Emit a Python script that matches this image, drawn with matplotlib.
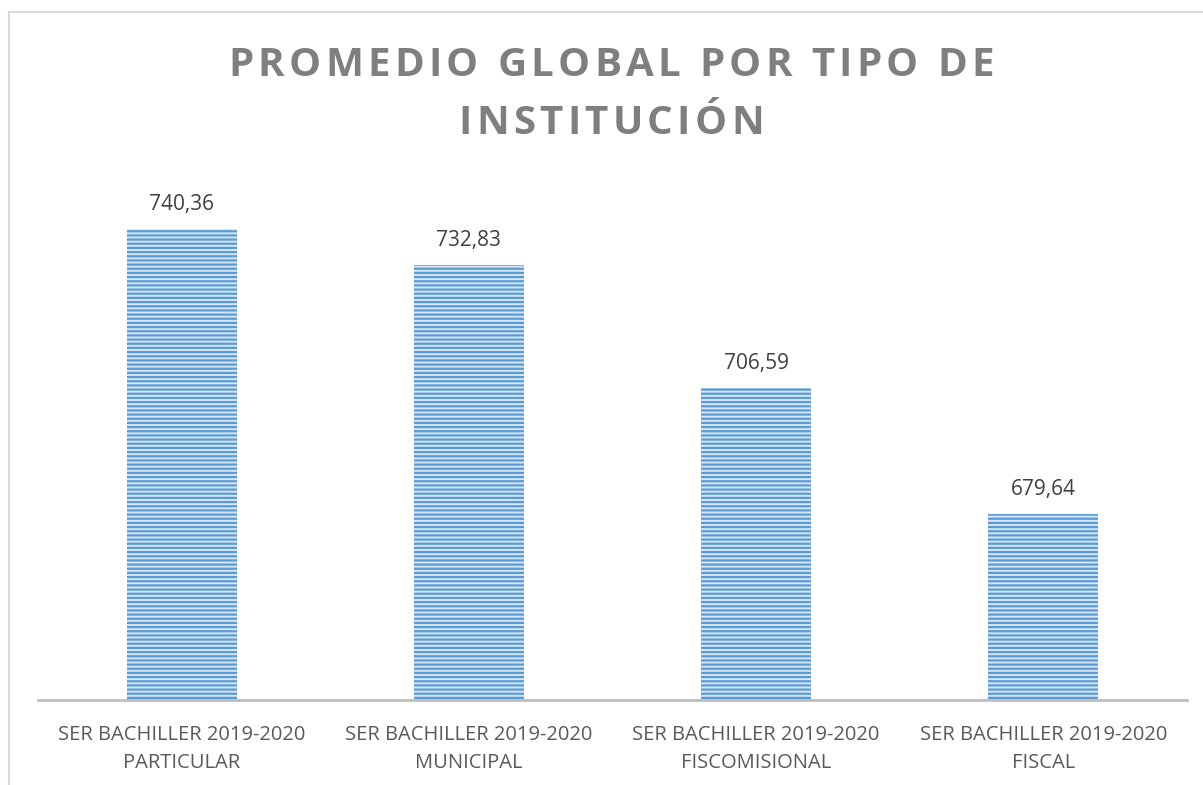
import matplotlib
matplotlib.use("Agg")
import matplotlib.pyplot as plt
from matplotlib.patches import Rectangle

categories = ["SER BACHILLER 2019-2020\nPARTICULAR",
              "SER BACHILLER 2019-2020\nMUNICIPAL",
              "SER BACHILLER 2019-2020\nFISCOMISIONAL",
              "SER BACHILLER 2019-2020\nFISCAL"]
values = [740.36, 732.83, 706.59, 679.64]
value_labels = ["740,36", "732,83", "706,59", "679,64"]
title_lines = ["PROMEDIO GLOBAL POR TIPO DE", "INSTITUCIÓN"]

plt.rcParams['font.family'] = ['Open Sans', 'DejaVu Sans']
plt.rcParams['hatch.linewidth'] = 1.6

fig = plt.figure(figsize=(12.03, 7.85), dpi=100)
fig.patch.set_facecolor('white')

# outer chart border
fig.patches.append(Rectangle((9/1203, -0.1), 1.2, (785-12)/785 + 0.1,
                             transform=fig.transFigure, fill=False,
                             edgecolor='#d9d9d9', linewidth=1.5, zorder=0))

ax = fig.add_axes([38/1203, 85/785, 1149/1203, 516/785])
x = range(len(values))
ax.bar(x, values, width=0.383, color='#d6e6f6', edgecolor='#5b9bd5',
       hatch='----', linewidth=0, zorder=2)
ax.set_ylim(640, 750)
ax.set_xlim(-0.5, 3.5)
for xi, v, lab in zip(x, values, value_labels):
    ax.annotate(lab, (xi, v), xytext=(0, 10), textcoords='offset points',
                ha='center', va='bottom', fontsize=15, color='#404040')

ax.set_xticks(list(x))
ax.set_xticklabels(categories, fontsize=14.5, color='#595959', linespacing=1.55)
ax.tick_params(axis='x', length=0, pad=18)
ax.set_yticks([])
for s in ['top', 'right', 'left']:
    ax.spines[s].set_visible(False)
ax.spines['bottom'].set_color('#bfbfbf')
ax.spines['bottom'].set_linewidth(2)

# title with letter spacing: place characters one by one
renderer = fig.canvas.get_renderer()
title_kw = dict(fontsize=29, fontweight='bold', color='#7f7f7f')
tracking = 4.3  # px between letters
centers_y = [65, 123]
cx = 611
for line, cy in zip(title_lines, centers_y):
    widths = []
    for ch in line:
        if ch == ' ':
            t = fig.text(0, 0, 'a a', **title_kw)
            t2 = fig.text(0, 0, 'aa', **title_kw)
            w = t.get_window_extent(renderer).width - t2.get_window_extent(renderer).width
            t.remove(); t2.remove()
        else:
            t = fig.text(0, 0, ch, **title_kw)
            w = t.get_window_extent(renderer).width
            t.remove()
        widths.append(w)
    total = sum(widths) + tracking * (len(line) - 1)
    xpos = cx - total / 2
    for ch, w in zip(line, widths):
        if ch != ' ':
            fig.text(xpos / 1203, 1 - cy / 785, ch, ha='left', va='center', **title_kw)
        xpos += w + tracking

fig.savefig('out.png', dpi=100, facecolor='white')
